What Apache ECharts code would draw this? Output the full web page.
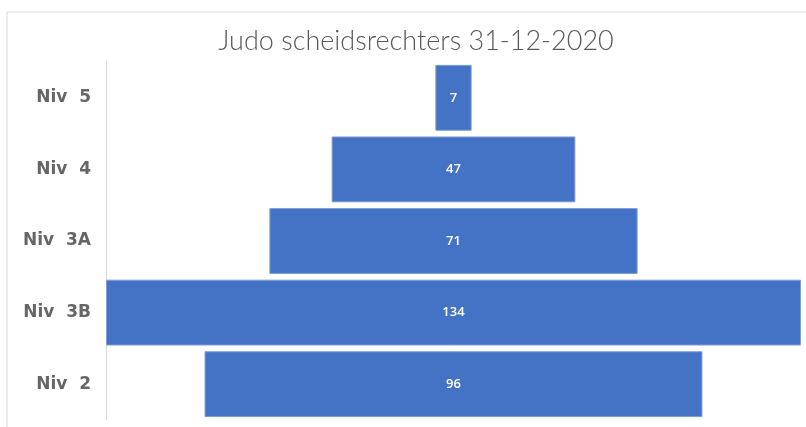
<!DOCTYPE html>
<html>
<head>
<meta charset="utf-8">
<script src="https://cdn.jsdelivr.net/npm/echarts@6/dist/echarts.min.js"></script>
<style>
  html, body { margin: 0; padding: 0; background: #fff; }
  #main { width: 806px; height: 427px; }
</style>
</head>
<body>
<div id="main"></div>
<script>
const categories = ['Niv  5', 'Niv  4', 'Niv  3A', 'Niv  3B', 'Niv  2'];
const values = [7, 47, 71, 134, 96];

const maxVal = Math.max(...values);
// transparent offset so every bar is centred
const offsets = values.map(v => (maxVal - v) / 2);

const chart = echarts.init(document.getElementById('main'));

chart.setOption({
  animation: false,
  title: {
    text: 'Judo scheidsrechters 31-12-2020',
    left: 411,
    textAlign: 'center',
    top: 23,
    textStyle: {
      fontFamily: 'Lato',
      fontSize: 27,
      fontWeight: 300,
      color: '#595959'
    }
  },
  graphic: [{
    type: 'polyline',
    shape: { points: [[7, 440], [7, 12], [820, 12]] },
    style: { stroke: '#d9d9d9', lineWidth: 1, fill: null },
    silent: true
  }],
  grid: { left: 106, right: 5, top: 62, bottom: 7 },
  xAxis: {
    type: 'value',
    min: 0,
    max: maxVal,
    show: false
  },
  yAxis: {
    type: 'category',
    data: categories,
    inverse: true,
    axisLine: { show: true, lineStyle: { color: '#d9d9d9', width: 1 } },
    axisTick: { show: false },
    axisLabel: {
      margin: 15,
      fontFamily: 'DejaVu Sans',
      fontSize: 17,
      fontWeight: 'bold',
      color: '#666666'
    }
  },
  series: [
    {
      type: 'bar',
      stack: 'p',
      data: offsets,
      itemStyle: { color: 'transparent' },
      barCategoryGap: '8%',
      silent: true
    },
    {
      type: 'bar',
      stack: 'p',
      data: values,
      barCategoryGap: '8%',
      itemStyle: { color: '#4472c4', borderColor: '#7f9fd8', borderWidth: 1 },
      label: {
        show: true,
        position: 'inside',
        color: '#ffffff',
        fontFamily: 'Open Sans',
        fontSize: 13,
        fontWeight: 600
      }
    }
  ]
});
</script>
</body>
</html>
